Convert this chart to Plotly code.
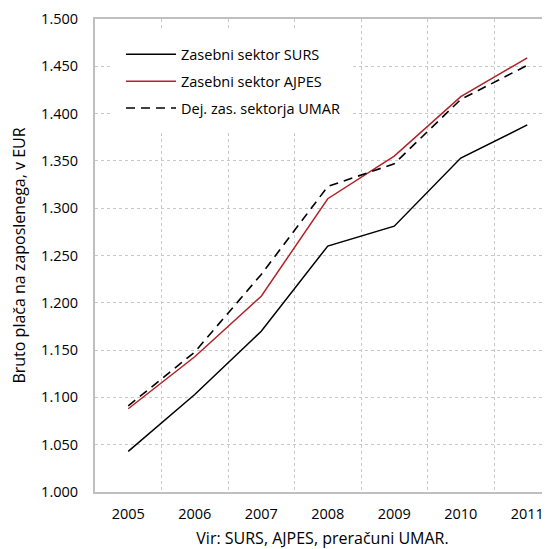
import plotly.graph_objects as go

years = [2005, 2006, 2007, 2008, 2009, 2010, 2011]
surs = [1043, 1103, 1170, 1260, 1281, 1353, 1388]
ajpes = [1088, 1143, 1207, 1310, 1355, 1418, 1459]
umar = [1091, 1148, 1230, 1323, 1347, 1415, 1451]

names = ['Zasebni sektor SURS', 'Zasebni sektor AJPES', 'Dej. zas. sektorja UMAR']

FONT = 'Open Sans'
frame = '#bfbfbf'
grid = '#c8c8c8'

fig = go.Figure()
fig.add_trace(go.Scatter(x=years, y=surs, name=names[0], mode='lines', legendgroup='a',
                         line=dict(color='black', width=1.5)))
fig.add_trace(go.Scatter(x=years, y=ajpes, name=names[1], mode='lines', legendgroup='b',
                         line=dict(color='#b22228', width=1.5)))
fig.add_trace(go.Scatter(x=years, y=umar, name=names[2], mode='lines', legendgroup='c',
                         line=dict(color='black', width=1.6, dash='9px,6px')))

# page body has an 8px margin, so the figure is sized to fit the window
fig.update_layout(
    width=542, height=541,
    margin=dict(l=87, r=0, t=11, b=57),
    paper_bgcolor='white', plot_bgcolor='white',
    separators=',.',
    font=dict(family=FONT, size=14.5, color='black'),
    showlegend=True,
    legend=dict(x=0.0396, y=0.976, xanchor='left', yanchor='top',
                bgcolor='white', bordercolor='white', borderwidth=8,
                itemwidth=50, tracegroupgap=5,
                font=dict(family=FONT, size=14.5, color='black')),
)

fig.update_xaxes(
    range=[2004.5, 2011.342],
    tickmode='array', tickvals=years, ticktext=[str(y) for y in years],
    showgrid=False, zeroline=False, automargin=False,
    showline=True, linecolor=frame, linewidth=2, mirror=True,
    ticks='', ticklabelstandoff=8,
    minor=dict(tick0=2005.5, dtick=1, showgrid=True, gridcolor=grid,
               griddash='dot', gridwidth=1, ticks=''),
    title=dict(text='Vir: SURS, AJPES, preračuni UMAR.', standoff=12,
               font=dict(family=FONT, size=16)),
)

fig.update_yaxes(
    range=[1000, 1500], dtick=50, tick0=1000, tickformat=',d',
    showgrid=True, gridcolor=grid, griddash='dot', gridwidth=1,
    zeroline=False, automargin=False,
    showline=True, linecolor=frame, linewidth=2,
    ticks='', ticklabelstandoff=12,
    title=dict(text='Bruto plača na zaposlenega, v EUR', standoff=12,
               font=dict(family=FONT, size=16)),
)

fig.write_html('out.html')
